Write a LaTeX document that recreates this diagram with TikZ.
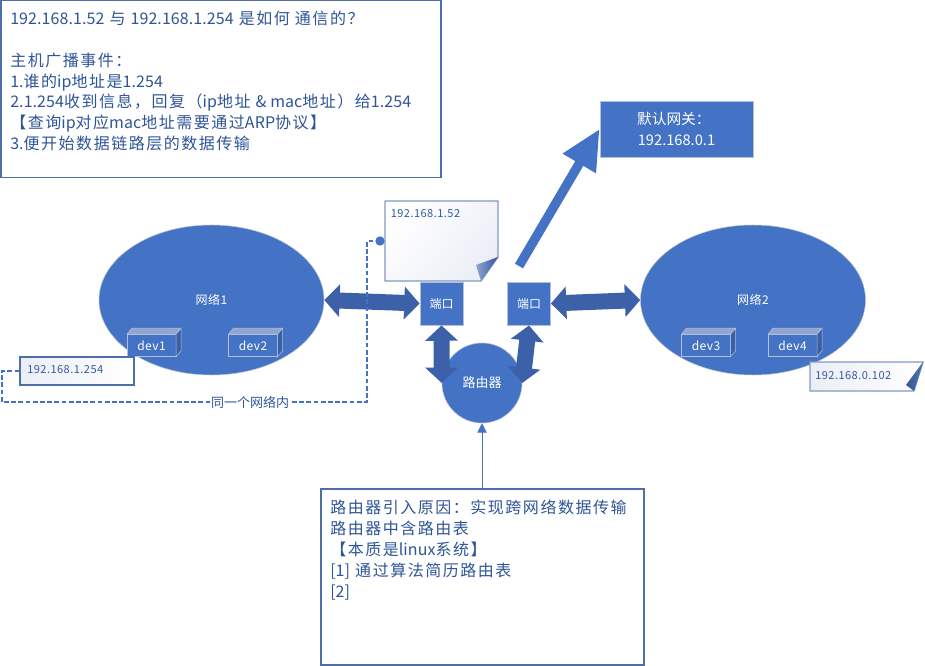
\documentclass[tikz,border=0pt]{standalone}
\usepackage{fontspec}
\setmainfont{Noto Sans CJK SC}
\newfontfamily\bigf[LetterSpace=9.5]{Noto Sans CJK SC}
\newfontfamily\latf[LetterSpace=0.5]{Noto Sans CJK SC}
\newfontfamily\smf[LetterSpace=4]{Noto Sans CJK SC}
\newcommand{\la}[1]{{\latf #1}}
\usetikzlibrary{arrows.meta,shapes.geometric}
\definecolor{blu}{HTML}{4472C4}
\definecolor{dkb}{HTML}{3C61A9}
\definecolor{txt}{HTML}{2F5597}
\definecolor{edge}{HTML}{B4C0D8}
\definecolor{cubet}{HTML}{8FA5D2}
\definecolor{cubes}{HTML}{3A60A8}
\definecolor{notel}{HTML}{ECEEF7}
\tikzset{
  x=0.75pt,y=-0.75pt,
  net/.style={ellipse,draw=edge,fill=blu,text=white,inner sep=0pt,minimum width=168.75pt,minimum height=112.5pt,font=\smf\fontsize{9}{11}\selectfont},
  port/.style={rectangle,draw=edge,fill=blu,text=white,inner sep=0pt,minimum width=32.5pt,minimum height=32.5pt,font=\fontsize{9}{11}\selectfont},
  cube/.style={rectangle,draw=edge,fill=blu,text=white,inner sep=0pt,minimum width=36.5pt,minimum height=16.5pt,font=\smf\fontsize{9}{11}\selectfont},
  textbox/.style={rectangle,draw=txt!85!white,fill=white,line width=0.9pt,inner sep=0pt},
  boxtext/.style={anchor=north west,inner sep=0pt,align=left,text=txt,font=\bigf\fontsize{12}{15.7}\selectfont},
  notetext/.style={anchor=west,inner sep=0pt,text=txt!80!blu,font=\smf\fontsize{8.3}{10}\selectfont},
  dbl/.style={draw=dkb,line width=12pt,{Triangle[length=11.5pt,width=24pt]}-{Triangle[length=11.5pt,width=24pt]}},
  conn/.style={draw=blu,line width=1pt,dash pattern=on 3.6pt off 1.8pt}
}
\newcommand{\cubeface}[1]{%
  \fill[cubet,draw=edge] (#1.north west) -- ++(5,-6) -- ++(48.5,0) -- (#1.north east) -- cycle;
  \fill[cubes,draw=edge] (#1.north east) -- ++(5,-6) -- ++(0,22.5) -- (#1.south east) -- cycle;}
\begin{document}
\begin{tikzpicture}
\useasboundingbox (0,0) rectangle (925,666);
\fill[white] (0,0) rectangle (925,666);

% text boxes
\node[textbox,minimum width=330pt,minimum height=132.5pt] (top) at (221,89) {};
\node[boxtext] (toptext) at (10,10.5) {\la{192.168.1.52} 与 \la{192.168.1.254} 是如何 通信的？\\ \mbox{}\\主机广播事件：\\\la{1.}谁的\la{ip}地址是\la{1.254}\\\la{2.1.254}收到信息，回复（\la{ip}地址 \la{\& mac}地址）给\la{1.254}\\【查询\la{ip}对应\la{mac}地址需要通过\la{ARP}协议】\\\la{3.}便开始数据链路层的数据传输};
\node[textbox,minimum width=242.25pt,minimum height=132pt] (why) at (482.5,577) {};
\node[boxtext] (whytext) at (330,500) {路由器引入原因：实现跨网络数据传输\\路由器中含路由表\\【本质是\la{linux}系统】\\\la{[1]} 通过算法简历路由表\\\la{[2]}};

% networks
\node[net] (net1) at (211.5,300) {网络1};
\node[net] (net2) at (753,300) {网络2};

% devices
\node[cube] (dev1) at (151.5,345.5) {dev1};
\cubeface{dev1}
\node[cube] (dev2) at (253,345.5) {dev2};
\cubeface{dev2}
\node[cube] (dev3) at (706,345.5) {dev3};
\cubeface{dev3}
\node[cube] (dev4) at (792.5,345.5) {dev4};
\cubeface{dev4}

% router and ports
\node[circle,draw=edge,fill=blu,text=white,inner sep=0pt,minimum size=60pt,font=\fontsize{9.75}{12}\selectfont] (router) at (482,383) {路由器};
\node[port] (port1) at (441.5,303.5) {端口};
\node[port] (port2) at (529,303.5) {端口};

% double arrows
\draw[dbl] (net1.east) -- (port1.west);
\draw[dbl] (port1.south) -- (router.west);
\draw[dbl] (port2.south) -- (router.east);
\draw[dbl] (port2.east) -- (net2.west);

% gateway
\node[rectangle,draw=edge,fill=blu,text=white,inner sep=0pt,minimum width=115pt,minimum height=42pt,align=center,font=\fontsize{11}{15.6}\selectfont] (gw) at (676.5,129) {\hspace*{-4pt}默认网关：\\192.168.0.1};
\coordinate (gwtail) at (519,266);
\draw[blu,line width=7pt,-{Triangle[length=30pt,width=27pt]}] (gwtail) -- (gw.west);

% notes
\node[rectangle,inner sep=0pt,minimum width=85.5pt,minimum height=21pt,draw=txt!85!white,line width=0.9pt,left color=notel,right color=white] (note1) at (77,371) {};
\node[notetext] (note1t) at (27,370) {192.168.1.254};

\coordinate (n2a) at (385,201);\coordinate (n2b) at (498,201);\coordinate (n2c) at (498,257);\coordinate (n2d) at (481,281);\coordinate (n2e) at (385,281);
\path[top color=notel,bottom color=white,shading angle=-130] (n2a) -- (n2b) -- (n2c) -- (n2d) -- (n2e) -- cycle;
\draw[txt!60!white,line width=1pt,line join=round] (n2a) -- (n2b) -- (n2c) -- (n2d) -- (n2e) -- cycle;
\path[left color=cubet,right color=txt] (n2c) -- (476,265) -- (n2d) -- cycle;
\node[notetext] (note2t) at (390.5,214) {192.168.1.52};

\coordinate (n3a) at (810,362);\coordinate (n3b) at (923,362);\coordinate (n3c) at (914,391);\coordinate (n3d) at (810,391);
\path[left color=notel,right color=white] (n3a) -- (n3b) -- (n3c) -- (n3d) -- cycle;
\draw[txt!60!white,line width=1pt,line join=round] (n3a) -- (n3b) -- (n3c) -- (n3d) -- cycle;
\path[left color=txt,right color=txt!60!cubet] (n3b) -- (906,385) -- (n3c) -- cycle;
\node[notetext] (note3t) at (815,376) {192.168.0.102};

% dashed link
\node[circle,fill=blu,inner sep=0pt,minimum size=7pt] (dot) at (380,241) {};
\coordinate (c1) at (2,371);\coordinate (c2) at (2,402);\coordinate (c3) at (367,402);\coordinate (c4) at (367,241);
\draw[conn] (note1.west) -- (c1) -- (c2) -- (c3) -- (c4) -- (dot.west);
\node[fill=white,inner sep=0.5pt,text=txt,font=\fontsize{9.75}{12}\selectfont] (lbl) at (250,402) {同一个网络内};

% router pointer
\draw[blu,line width=0.75pt,-{Triangle[length=7pt,width=7pt]}] (why.north -| router) -- (router.south);
\end{tikzpicture}
\end{document}
